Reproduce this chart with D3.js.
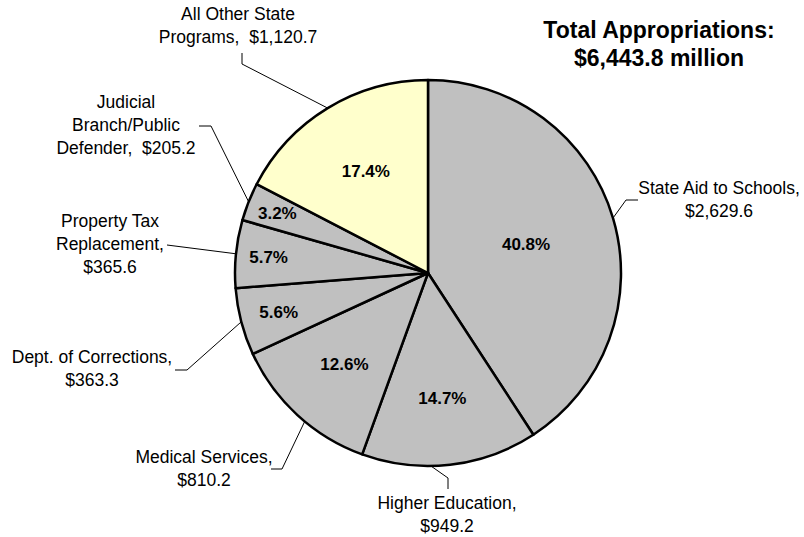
<!DOCTYPE html>
<html>
<head>
<meta charset="utf-8">
<script src="https://cdn.jsdelivr.net/npm/d3@7/dist/d3.min.js"></script>
<style>
  html, body { margin: 0; padding: 0; background: #ffffff; }
  svg { display: block; }
  text { font-family: "Liberation Sans", Arial, sans-serif; fill: #000; }
</style>
</head>
<body>
<svg id="chart" width="804" height="537"></svg>
<script>
// ---- Data ----
const categories = [
  "State Aid to Schools",
  "Higher Education",
  "Medical Services",
  "Dept. of Corrections",
  "Property Tax Replacement",
  "Judicial Branch/Public Defender",
  "All Other State Programs"
];
const values = [2629.6, 949.2, 810.2, 363.3, 365.6, 205.2, 1120.7];
// label text lines (name part); value is appended to the last line
const labelLines = [
  ["State Aid to Schools,", ""],
  ["Higher Education,", ""],
  ["Medical Services,", ""],
  ["Dept. of Corrections,", ""],
  ["Property Tax", "Replacement,", ""],
  ["Judicial", "Branch/Public", "Defender,  "],
  ["All Other State", "Programs,  "]
];
const titleLines = ["Total Appropriations:", "$6,443.8 million"];
const sliceColors = ["#C0C0C0", "#C0C0C0", "#C0C0C0", "#C0C0C0", "#C0C0C0", "#C0C0C0", "#FFFFCC"];

// ---- Layout (positions only) ----
const cx = 428, cy = 273, R = 193;
const pctRadius = [0.53, 0.65, 0.64, 0.80, 0.83, 0.84, 0.62];
const labelPos = [
  [719, 188], [447, 503], [204, 457], [92, 357], [110, 221], [126, 102], [238, 14]
];
const lineGap = 23;
// leader polyline points on the label side (arc point is computed)
const leaderPts = [
  [[638, 200], [626, 200]],
  [[448, 489], [448, 478]],
  [[271, 469], [282, 469]],
  [[175, 370], [187, 370]],
  [[167, 245]],
  [[199, 126], [211, 126]],
  [[242, 53], [242, 64]]
];
const leaderAngleShift = [0, 0.10, -0.05, 0, 0, 0, 0]; // radians

const svg = d3.select("#chart");
const total = d3.sum(values);
const fmtPct = d3.format(".1%");
const fmtVal = v => "$" + d3.format(",.1f")(v);

const pie = d3.pie().sort(null).value(d => d)(values);
const arc = d3.arc().innerRadius(0).outerRadius(R);

const g = svg.append("g").attr("transform", `translate(${cx},${cy})`);

g.selectAll("path.slice")
  .data(pie)
  .join("path")
  .attr("class", "slice")
  .attr("d", arc)
  .attr("fill", (d, i) => sliceColors[i])
  .attr("stroke", "#000")
  .attr("stroke-width", 2.5)
  .attr("stroke-linejoin", "round");

// percent labels
g.selectAll("text.pct")
  .data(pie)
  .join("text")
  .attr("class", "pct")
  .attr("transform", (d, i) => {
    const r = R * pctRadius[i];
    const c = d3.arc().innerRadius(r).outerRadius(r).centroid(d);
    return `translate(${c[0]},${c[1]})`;
  })
  .attr("text-anchor", "middle")
  .attr("dy", "0.35em")
  .style("font-size", "17px")
  .style("font-weight", "bold")
  .text(d => fmtPct(d.value / total));

// leader lines
pie.forEach((d, i) => {
  const a = (d.startAngle + d.endAngle) / 2 + leaderAngleShift[i];
  const arcPt = [cx + R * Math.sin(a), cy - R * Math.cos(a)];
  const pts = leaderPts[i].concat([arcPt]);
  svg.append("path")
    .attr("d", d3.line()(pts))
    .attr("fill", "none")
    .attr("stroke", "#000")
    .attr("stroke-width", 1);
});

// category labels
pie.forEach((d, i) => {
  const lines = labelLines[i].slice();
  lines[lines.length - 1] = lines[lines.length - 1] + fmtVal(d.value);
  const t = svg.append("text")
    .attr("text-anchor", "middle")
    .attr("xml:space", "preserve")
    .style("white-space", "pre")
    .style("font-size", "17.5px");
  lines.forEach((ln, k) => {
    t.append("tspan")
      .attr("x", labelPos[i][0])
      .attr("y", labelPos[i][1] + k * lineGap)
      .attr("dy", "0.35em")
      .text(ln);
  });
});

// title
const tt = svg.append("text")
  .attr("text-anchor", "middle")
  .style("font-size", "23px")
  .style("font-weight", "bold");
titleLines.forEach((ln, k) => {
  tt.append("tspan").attr("x", 659).attr("y", 30 + k * 28).attr("dy", "0.35em").text(ln);
});
</script>
</body>
</html>
